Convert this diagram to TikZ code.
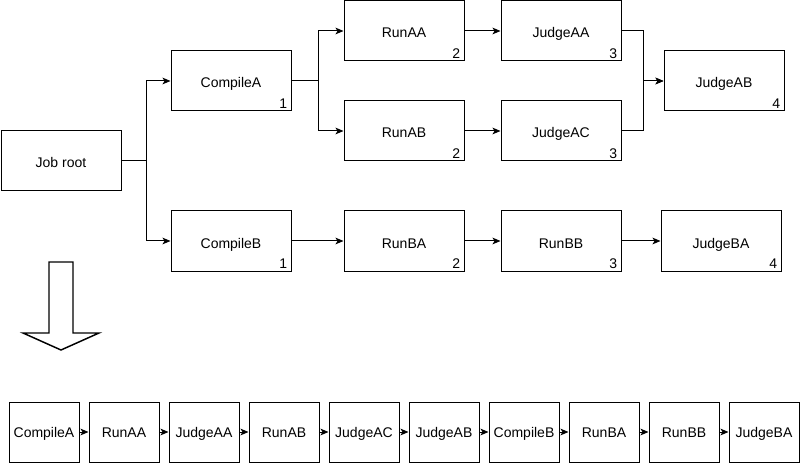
\documentclass[tikz,border=0pt]{standalone}
\usepackage{fontspec}
\setmainfont{Liberation Sans}
\usetikzlibrary{arrows.meta,calc}
\begin{document}
\begin{tikzpicture}[x=0.75pt,y=-0.75pt,
  box/.style={draw,line width=0.75pt,minimum width=90pt,minimum height=45pt,inner sep=0pt,text height=10.5pt,text depth=0pt,font=\fontsize{10.5}{12}\selectfont},
  sbox/.style={draw,line width=0.75pt,minimum width=52.5pt,minimum height=45pt,inner sep=0pt,text height=8.5pt,text depth=0pt,font=\fontsize{10.5}{12}\selectfont},
  num/.style={inner sep=0pt,anchor=base east,font=\fontsize{10.5}{12}\selectfont},
  arr/.style={line width=0.75pt,-{Stealth[length=6pt,width=5pt,inset=1.5pt]}},
  ln/.style={line width=0.75pt}]
\useasboundingbox (0,0) rectangle (806,463);
% top graph
\node[box] (jr)  at (61,161)  {Job root};
\node[box] (ca)  at (231,81)  {CompileA};
\node[box] (cb)  at (231,241) {CompileB};
\node[box] (raa) at (404,31)  {RunAA};
\node[box] (rab) at (404,131) {RunAB};
\node[box] (rba) at (404,241) {RunBA};
\node[box] (jaa) at (561,31)  {JudgeAA};
\node[box] (jac) at (561,131) {JudgeAC};
\node[box] (rbb) at (561,241) {RunBB};
\node[box] (jab) at (724,81)  {JudgeAB};
\node[box] (jba) at (721,241) {JudgeBA};
% level numbers
\foreach \n/\v in {ca/1,cb/1,raa/2,rab/2,rba/2,jaa/3,jac/3,rbb/3,jab/4,jba/4}
  \node[num] (l\n) at ([xshift=-3pt,yshift=2.3pt]\n.south east) {\v};
% connectors
\draw[arr] (jr.east) -- ++(25,0) |- (ca.west);
\draw[arr] (jr.east) -- ++(25,0) |- (cb.west);
\draw[arr] (ca.east) -- ++(27,0) |- (raa.west);
\draw[arr] (ca.east) -- ++(27,0) |- (rab.west);
\draw[arr] (raa) -- (jaa);
\draw[arr] (rab) -- (jac);
\draw[arr] (jaa.east) -- ++(22,0) |- (jab.west);
\draw[arr] (jac.east) -- ++(22,0) |- (jab.west);
\draw[arr] (cb) -- (rba);
\draw[arr] (rba) -- (rbb);
\draw[arr] (rbb) -- (jba);
% big arrow
\draw[line width=1.1pt,line join=miter] (49,262) -- (73,262) -- (73,333) -- (99,333) -- (61,350) -- (23,333) -- (49,333) -- cycle;
% bottom sequence
\foreach \t [count=\i from 0] in {CompileA,RunAA,JudgeAA,RunAB,JudgeAC,JudgeAB,CompileB,RunBA,RunBB,JudgeBA}
  \node[sbox] (s\i) at ({44+80*\i},432) {\t};
\foreach \i [evaluate=\i as \j using int(\i+1)] in {0,...,8}
  \draw[arr] (s\i) -- (s\j);
\end{tikzpicture}
\end{document}
